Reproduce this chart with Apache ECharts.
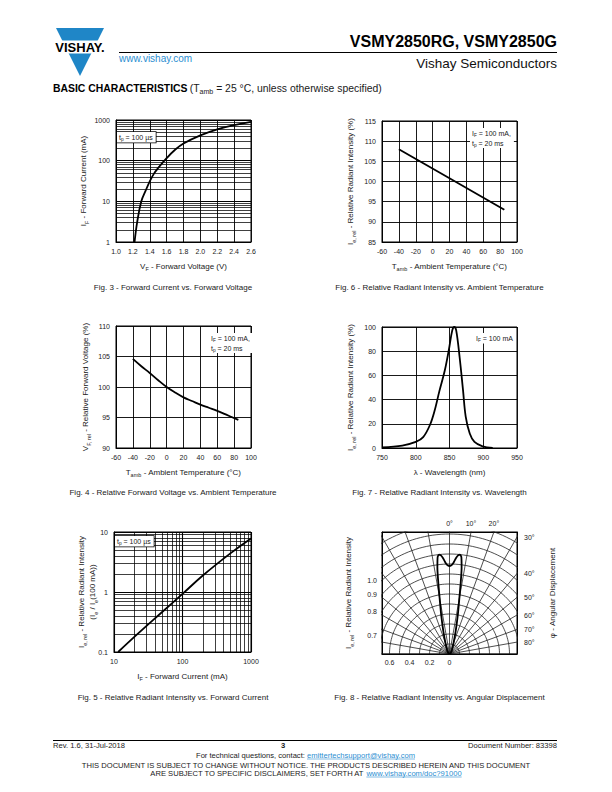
<!DOCTYPE html>
<html><head><meta charset="utf-8">
<script src="https://cdn.jsdelivr.net/npm/echarts@6/dist/echarts.min.js"></script>
<style>html,body{margin:0;padding:0;background:#fff}#c{width:612px;height:792px}</style>
</head><body><div id="c"></div>
<script>
// ---------------- DATA ----------------
// Fig. 3 - Forward current vs forward voltage
const fig3VoltageTicks = [1.0, 1.2, 1.4, 1.6, 1.8, 2.0, 2.2, 2.4, 2.6];
const fig3CurrentTicks = [1, 10, 100, 1000];
const fig3CurrentMinor = [2,3,4,5,6,7,8,9,20,30,40,50,60,70,80,90,200,300,400,500,600,700,800,900];
const fig3Voltage = [1.22, 1.25, 1.30, 1.35, 1.40, 1.45, 1.50, 1.60, 1.70, 1.80, 2.00, 2.20, 2.40, 2.60];
const fig3Current = [1, 3, 10, 18, 31, 48, 66, 115, 185, 265, 420, 590, 750, 900];

// Fig. 6 - Relative radiant intensity vs ambient temperature
const fig6TempTicks = [-60, -40, -20, 0, 20, 40, 60, 80, 100];
const fig6IntensityTicks = [85, 90, 95, 100, 105, 110, 115];
const fig6Temp = [-40, 20, 85];
const fig6Intensity = [108, 100.8, 93];

// Fig. 4 - Relative forward voltage vs ambient temperature
const fig4TempTicks = [-60, -40, -20, 0, 20, 40, 60, 80, 100];
const fig4VoltageTicks = [90, 95, 100, 105, 110];
const fig4Temp = [-40, -30, -20, -10, 0, 10, 20, 30, 40, 50, 60, 70, 85];
const fig4Voltage = [104.6, 103.4, 102.3, 101.1, 100.0, 99.1, 98.3, 97.7, 97.1, 96.6, 96.1, 95.5, 94.6];

// Fig. 7 - Relative radiant intensity vs wavelength
const fig7WavelengthTicks = [750, 800, 850, 900, 950];
const fig7IntensityTicks = [0, 20, 40, 60, 80, 100];
const fig7Wavelength = [750, 780, 800, 811, 821, 828, 835, 843, 849, 854, 857, 860, 865, 870, 874, 880, 887, 899, 914];
const fig7Intensity = [0.5, 2, 5, 9, 19, 31, 47, 64, 81, 97, 100, 97, 75, 48, 26, 12, 5, 1.4, 0];

// Fig. 5 - Relative radiant intensity vs forward current
const fig5CurrentTicks = [10, 100, 1000];
const fig5CurrentMinor = [20,30,40,50,60,70,80,90,200,300,400,500,600,700,800,900];
const fig5IntensityTicks = [0.1, 1, 10];
const fig5IntensityMinor = [0.2,0.3,0.4,0.5,0.6,0.7,0.8,0.9,2,3,4,5,6,7,8,9];
const fig5Current = [11.5, 20, 50, 100, 200, 500, 1000];
const fig5Intensity = [0.1, 0.18, 0.46, 0.93, 1.9, 4.4, 7.8];

// Fig. 8 - Relative radiant intensity vs angular displacement
const fig8Angles = [0, 1, 2, 3, 4, 5, 6, 7, 8, 9, 10, 12, 15, 20, 30, 45, 60, 90];
const fig8Intensity = [0.88, 0.885, 0.90, 0.93, 0.965, 0.99, 1.0, 0.975, 0.87, 0.71, 0.57, 0.40, 0.24, 0.12, 0.05, 0.02, 0.01, 0];
const fig8Radii = [0.1, 0.2, 0.3, 0.4, 0.5, 0.6, 0.7, 0.8, 0.9, 1.0, 1.1, 1.2, 1.3];
const fig8SpokeAngles = [-90, -80, -70, -60, -50, -40, -30, -20, -10, 0, 10, 20, 30, 40, 50, 60, 70, 80, 90];
const fig8BottomTicks = [0.6, 0.4, 0.2, 0];
const fig8LeftTicks = [1.0, 0.9, 0.8, 0.7];
const fig8RightTicks = [30, 40, 50, 60, 70, 80];
const fig8TopTicks = [0, 10, 20];
const fig8HalfWidth = 0.675;
const fig8Height = 1.22;

// ---------------- STYLE / HELPERS ----------------
const F = '"Liberation Sans", Arial, Helvetica, sans-serif';
const BLACK = '#000';
const TXT = '#1a1a1a';
const BLUE = '#2b8ed1';
const D2R = Math.PI / 180;
const zip = (a, b) => a.map((v, i) => [v, b[i]]);

function rich(fs) {
  return {
    n: {fontSize: fs, fontFamily: F, color: TXT, fill: TXT, lineHeight: fs * 1.35},
    s: {fontSize: fs * 0.68, fontFamily: F, color: TXT, fill: TXT, verticalAlign: 'bottom', lineHeight: fs * 0.68},
    b: {fontSize: fs, fontFamily: F, fontWeight: 'bold', color: '#000', fill: '#000', lineHeight: fs * 1.35}
  };
}
const nameStyle = {fontSize: 8, fontFamily: F, color: TXT, rich: rich(8)};
const lbl = (extra) => Object.assign({color: TXT, fontSize: 7, fontFamily: F, margin: 6}, extra || {});
const axisLine = {show: true, onZero: false, lineStyle: {color: BLACK, width: 1}};

function linAxis(gi, ticks, extra) {
  const iv = +(ticks[1] - ticks[0]).toFixed(6);
  return Object.assign({
    type: 'value', gridIndex: gi, min: ticks[0], max: ticks[ticks.length - 1], interval: iv,
    axisLine, axisTick: {show: false},
    splitLine: {show: true, lineStyle: {color: BLACK, width: 0.9}},
    axisLabel: lbl(), nameTextStyle: nameStyle, nameLocation: 'middle', nameMoveOverlap: false
  }, extra);
}
function logAxis(gi, ticks, extra) {
  return Object.assign({
    type: 'log', logBase: 10, gridIndex: gi, min: ticks[0], max: ticks[ticks.length - 1],
    axisLine, axisTick: {show: false},
    splitLine: {show: true, lineStyle: {color: BLACK, width: 1.1}},
    axisLabel: lbl({formatter: v => String(+(+v).toPrecision(6))}),
    nameTextStyle: nameStyle, nameLocation: 'middle', nameMoveOverlap: false
  }, extra);
}
function minorLines(items) {
  return {
    silent: true, symbol: ['none', 'none'], animation: false, label: {show: false},
    emphasis: {disabled: true},
    lineStyle: {color: BLACK, width: 0.75, type: 'solid'}, data: items
  };
}
const curve = (xi, data, smooth, extra) => Object.assign({
  type: 'line', xAxisIndex: xi, yAxisIndex: xi, data, symbol: 'none', showSymbol: false,
  smooth, silent: true, animation: false, z: 5, lineStyle: {color: BLACK, width: 1.8}
}, extra || {});

// ---------------- GRIDS ----------------
const grid = [
  {left: 116, top: 120, width: 135, height: 122},
  {left: 382, top: 121, width: 135, height: 121},
  {left: 116, top: 326, width: 135, height: 122},
  {left: 382, top: 327, width: 135, height: 121},
  {left: 114, top: 532, width: 137, height: 120},
  {left: 382, top: 532, width: 135, height: 122}
].map(g => Object.assign({show: true, borderColor: BLACK, borderWidth: 1, containLabel: false, outerBoundsMode: 'none'}, g));

// ---------------- AXES ----------------
const xAxis = [
  linAxis(0, fig3VoltageTicks, {name: '{n|V}{s|F}{n| - Forward Voltage (V)}', nameGap: 19,
    axisLabel: lbl({formatter: v => (+v).toFixed(1)})}),
  linAxis(1, fig6TempTicks, {name: '{n|T}{s|amb}{n| - Ambient Temperature (°C)}', nameGap: 19}),
  linAxis(2, fig4TempTicks, {name: '{n|T}{s|amb}{n| - Ambient Temperature (°C)}', nameGap: 19}),
  linAxis(3, fig7WavelengthTicks, {name: '{n|λ - Wavelength (nm)}', nameGap: 19}),
  logAxis(4, fig5CurrentTicks, {name: '{n|I}{s|F}{n| - Forward Current (mA)}', nameGap: 19}),
  {type: 'value', gridIndex: 5, min: -fig8HalfWidth, max: fig8HalfWidth, axisLine, axisTick: {show: false},
    splitLine: {show: false},
    axisLabel: lbl({margin: 5, customValues: fig8BottomTicks.map(v => -v),
      formatter: v => Math.abs(v) < 1e-9 ? '0' : Math.abs(v).toFixed(1)})},
  {type: 'value', gridIndex: 5, position: 'top', min: -fig8HalfWidth, max: fig8HalfWidth, axisLine,
    axisTick: {show: false}, splitLine: {show: false},
    axisLabel: lbl({margin: 5, customValues: fig8TopTicks.map(a => fig8Height * Math.tan(a * D2R)),
      formatter: v => Math.round(Math.atan(v / fig8Height) / D2R) + '°'})}
];
const yAxis = [
  logAxis(0, fig3CurrentTicks, {name: '{n|I}{s|F}{n| - Forward Current (mA)}', nameGap: 27, nameRotate: 90}),
  linAxis(1, fig6IntensityTicks, {name: '{n|I}{s|e, rel}{n| - Relative Radiant Intensity (%)}', nameGap: 26, nameRotate: 90}),
  linAxis(2, fig4VoltageTicks, {name: '{n|V}{s|F, rel}{n| - Relative Forward Voltage (%)}', nameGap: 25, nameRotate: 90}),
  linAxis(3, fig7IntensityTicks, {name: '{n|I}{s|e, rel}{n| - Relative Radiant Intensity (%)}', nameGap: 26, nameRotate: 90}),
  logAxis(4, fig5IntensityTicks, {name: '{n|I}{s|e, rel}{n| - Relative Radiant Intensity}\n{n|(I}{s|e}{n| / I}{s|e}{n|(100 mA))}',
    nameGap: 16, nameRotate: 90}),
  {type: 'value', gridIndex: 5, min: 0, max: fig8Height, axisLine, axisTick: {show: false}, splitLine: {show: false},
    name: '{n|I}{s|e, rel}{n| - Relative Radiant Intensity}', nameLocation: 'middle', nameGap: 28, nameRotate: 90,
    nameTextStyle: nameStyle, nameMoveOverlap: false,
    axisLabel: lbl({margin: 5, customValues: fig8LeftTicks.map(r => Math.sqrt(r * r - fig8HalfWidth * fig8HalfWidth)),
      formatter: v => Math.sqrt(v * v + fig8HalfWidth * fig8HalfWidth).toFixed(1)})},
  {type: 'value', gridIndex: 5, position: 'right', min: 0, max: fig8Height, axisLine, axisTick: {show: false},
    splitLine: {show: false},
    name: '{n|φ - Angular Displacement}', nameLocation: 'middle', nameGap: 30, nameRotate: 90,
    nameTextStyle: nameStyle, nameMoveOverlap: false,
    axisLabel: lbl({margin: 7, customValues: fig8RightTicks.map(a => fig8HalfWidth / Math.tan(a * D2R)),
      formatter: v => Math.round(Math.atan(fig8HalfWidth / v) / D2R) + '°'})}
];

// ---------------- SERIES ----------------
const series = [
  curve(0, zip(fig3Voltage, fig3Current), 0.4, {markLine: minorLines(fig3CurrentMinor.map(v => ({yAxis: v})))}),
  curve(1, zip(fig6Temp, fig6Intensity), false),
  curve(2, zip(fig4Temp, fig4Voltage), 0.4),
  curve(3, zip(fig7Wavelength, fig7Intensity), 0.35),
  curve(4, zip(fig5Current, fig5Intensity), 0.4, {markLine: minorLines(
    fig5CurrentMinor.map(v => ({xAxis: v})).concat(fig5IntensityMinor.map(v => ({yAxis: v}))))})
];
// Fig 8 polar grid (circles and spokes), clipped by the box
const gridLineStyle = {color: '#222', width: 0.8};
fig8Radii.forEach(r => {
  const pts = [];
  for (let a = -90; a <= 90; a += 2) pts.push([r * Math.sin(a * D2R), r * Math.cos(a * D2R)]);
  series.push({type: 'line', xAxisIndex: 5, yAxisIndex: 5, data: pts, symbol: 'none', silent: true,
    animation: false, clip: true, smooth: false, lineStyle: gridLineStyle, z: 2});
});
fig8SpokeAngles.forEach(a => {
  series.push({type: 'line', xAxisIndex: 5, yAxisIndex: 5, symbol: 'none', silent: true, animation: false, clip: true,
    data: [[0, 0], [2 * Math.sin(a * D2R), 2 * Math.cos(a * D2R)]], lineStyle: gridLineStyle, z: 2});
});
const fig8Polar = [];
for (let i = fig8Angles.length - 1; i > 0; i--) fig8Polar.push([-fig8Angles[i], fig8Intensity[i]]);
for (let i = 0; i < fig8Angles.length; i++) fig8Polar.push([fig8Angles[i], fig8Intensity[i]]);
series.push(curve(5, fig8Polar.map(([a, r]) => [r * Math.sin(a * D2R), r * Math.cos(a * D2R)]), 0.25, {clip: true}));

// ---------------- TEXTS ----------------
const ctx = document.createElement('canvas').getContext('2d');
function tw(text, size, weight) { ctx.font = (weight || 'normal') + ' ' + size + 'px ' + F; return ctx.measureText(text).width; }
function txt(x, y, text, o) {
  return {type: 'text', x, y, silent: true, z: 100,
    style: Object.assign({text, fontSize: 8, fontFamily: F, fill: TXT, align: 'left', verticalAlign: 'middle',
      textAlign: 'left', textVerticalAlign: 'middle'}, o || {})};
}
function alignO(a, o) { return Object.assign({align: a, textAlign: a}, o || {}); }
const legendRich = rich(7);
function legend(x, y, text, border) {
  return txt(x, y, text, {rich: legendRich, backgroundColor: '#fff', padding: [1, 3, 0, 2],
    borderColor: border ? BLACK : null, borderWidth: border ? 0.8 : 0, verticalAlign: 'top', textVerticalAlign: 'top'});
}
function linkLine(x1, x2, y) {
  return {type: 'line', silent: true, z: 100, shape: {x1, y1: y, x2, y2: y}, style: {stroke: BLUE, lineWidth: 0.6}};
}

const graphic = [];
// logo
graphic.push({type: 'polygon', silent: true, shape: {points: [[56, 28], [104, 28], [80, 76]]}, style: {fill: '#1f86c7'}});
graphic.push({type: 'rect', silent: true, shape: {x: 50, y: 40.5, width: 60, height: 13}, style: {fill: '#fff'}});
graphic.push(txt(80, 47.5, 'VISHAY.', alignO('center', {fontSize: 13, fontWeight: 'bold', fill: '#000'})));
// header
graphic.push(txt(557, 41, 'VSMY2850RG, VSMY2850G', alignO('right', {fontSize: 16, fontWeight: 'bold', fill: '#000'})));
graphic.push({type: 'line', silent: true, shape: {x1: 119, y1: 52.5, x2: 557, y2: 52.5}, style: {stroke: '#000', lineWidth: 1}});
graphic.push(txt(119, 58.5, 'www.vishay.com', {fontSize: 10, fill: BLUE}));
graphic.push(txt(557, 63, 'Vishay Semiconductors', alignO('right', {fontSize: 13.5, fill: '#111'})));
graphic.push(txt(53, 88, '{b|BASIC CHARACTERISTICS} {n|(T}{s|amb}{n| = 25 °C, unless otherwise specified)}', {rich: rich(10.4)}));

// captions
const captions = [
  [173, 287, 'Fig. 3 - Forward Current vs. Forward Voltage'],
  [439.5, 287, 'Fig. 6 - Relative Radiant Intensity vs. Ambient Temperature'],
  [173, 492, 'Fig. 4 - Relative Forward Voltage vs. Ambient Temperature'],
  [439.5, 492, 'Fig. 7 - Relative Radiant Intensity vs. Wavelength'],
  [173, 697, 'Fig. 5 - Relative Radiant Intensity vs. Forward Current'],
  [439.5, 697, 'Fig. 8 - Relative Radiant Intensity vs. Angular Displacement']
];
captions.forEach(([x, y, t]) => graphic.push(txt(x, y, t, alignO('center', {fontSize: 8}))));

// legends inside plots
graphic.push(legend(117, 132, '{n|t}{s|p}{n| = 100 µs}', true));
graphic.push(legend(470, 128, '{n|I}{s|F}{n| = 100 mA,}\n{n|t}{s|p}{n| = 20 ms}', false));
graphic.push(legend(209, 333, '{n|I}{s|F}{n| = 100 mA,}\n{n|t}{s|p}{n| = 20 ms}', false));
graphic.push(legend(474, 333, '{n|I}{s|F}{n| = 100 mA}', false));
graphic.push(legend(115, 536, '{n|t}{s|p}{n| = 100 µs}', true));

// footer
graphic.push({type: 'line', silent: true, shape: {x1: 53, y1: 740.5, x2: 557, y2: 740.5}, style: {stroke: '#000', lineWidth: 1}});
const FS = 7.6;
graphic.push(txt(53, 745, 'Rev. 1.6, 31-Jul-2018', {fontSize: FS}));
graphic.push(txt(283, 745.5, '3', alignO('center', {fontSize: FS, fontWeight: 'bold'})));
graphic.push(txt(557, 745, 'Document Number: 83398', alignO('right', {fontSize: FS})));
(function () {
  const a = 'For technical questions, contact: ', b = 'emittertechsupport@vishay.com';
  const wa = tw(a, FS), wb = tw(b, FS), x0 = 305.5 - (wa + wb) / 2;
  graphic.push(txt(x0, 755, a, {fontSize: FS}));
  graphic.push(txt(x0 + wa, 755, b, {fontSize: FS, fill: BLUE}));
  graphic.push(linkLine(x0 + wa, x0 + wa + wb, 759));
})();
graphic.push(txt(306, 765, 'THIS DOCUMENT IS SUBJECT TO CHANGE WITHOUT NOTICE. THE PRODUCTS DESCRIBED HEREIN AND THIS DOCUMENT',
  alignO('center', {fontSize: FS})));
(function () {
  const a = 'ARE SUBJECT TO SPECIFIC DISCLAIMERS, SET FORTH AT ', b = 'www.vishay.com/doc?91000';
  const wa = tw(a, FS), wb = tw(b, FS), x0 = 306 - (wa + wb) / 2;
  graphic.push(txt(x0, 773, a, {fontSize: FS}));
  graphic.push(txt(x0 + wa, 773, b, {fontSize: FS, fill: BLUE}));
  graphic.push(linkLine(x0 + wa, x0 + wa + wb, 777));
})();

const chart = echarts.init(document.getElementById('c'), null, {renderer: 'svg', width: 612, height: 792});
chart.setOption({animation: false, backgroundColor: '#fff', textStyle: {fontFamily: F}, grid, xAxis, yAxis, series, graphic});
</script>
</body></html>
